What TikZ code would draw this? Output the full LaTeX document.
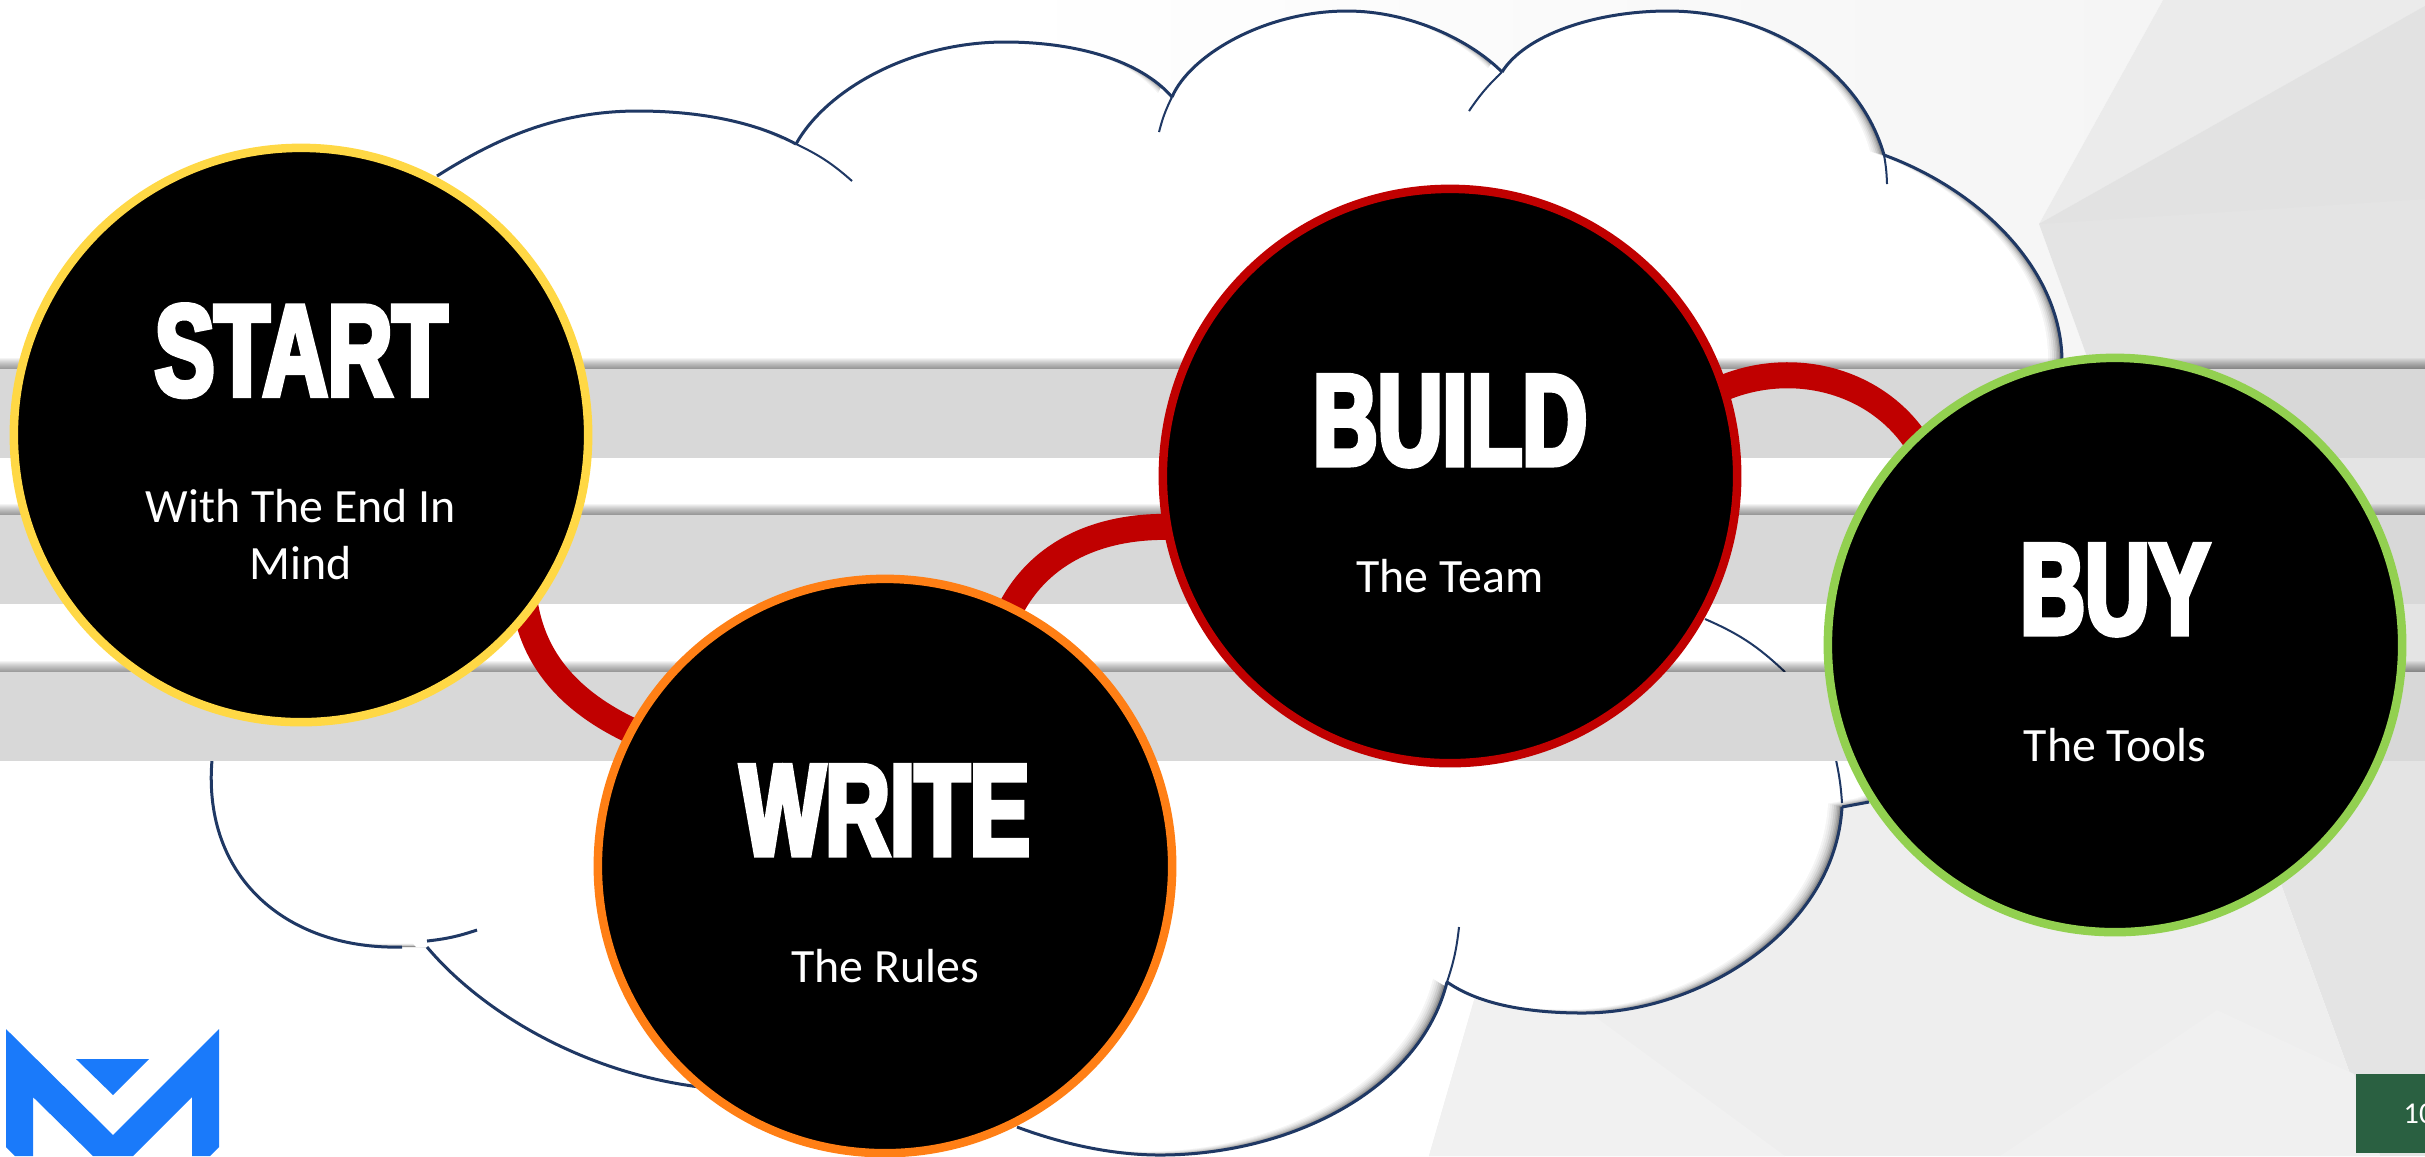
\documentclass[tikz,border=0pt]{standalone}
\usepackage{fontspec}
\usepackage{tikz}
\setmainfont{Carlito}
\newfontfamily\headfont[UprightFont=* Bold,FakeStretch=0.69,FakeBold=4]{Liberation Sans}
\definecolor{cloudblue}{HTML}{1F3864}
\definecolor{linkred}{HTML}{C00000}
\definecolor{bandgrey}{HTML}{D8D8D8}
\definecolor{logoblue}{HTML}{1A7AFA}
\definecolor{boxgreen}{HTML}{2A6041}
\definecolor{ringyellow}{HTML}{FFD845}
\definecolor{ringorange}{HTML}{FF7F15}
\definecolor{ringgreen}{HTML}{92D050}
\pgfdeclarelayer{under}
\pgfsetlayers{under,main}

\newcommand{\stagehead}[1]{\rule{0pt}{30pt}{\headfont\fontsize{37}{37}\selectfont #1}\\[20pt]}
% the lobes of the cloud, in picture pixels
\newcommand{\lobeA}{.. controls (497,138) and (558,111) .. (638,111) .. controls (700,111) and (755,122) .. (796,144)}
\newcommand{\lobeB}{.. controls (826,90) and (910,42) .. (1005,42) .. controls (1075,42) and (1140,60) .. (1172,97)}
\newcommand{\lobeC}{.. controls (1190,55) and (1265,11) .. (1347,11) .. controls (1410,11) and (1470,40) .. (1502,72)}
\newcommand{\lobeD}{.. controls (1525,35) and (1595,11) .. (1668,11) .. controls (1770,11) and (1860,70) .. (1884,155)}
\newcommand{\lobeE}{.. controls (1980,190) and (2062,270) .. (2062,362)}
\newcommand{\lobeF}{.. controls (1835,930) and (1700,1013) .. (1583,1013) .. controls (1530,1013) and (1480,1005) .. (1447,982)}
\newcommand{\lobeG}{.. controls (1420,1090) and (1290,1155) .. (1160,1155) .. controls (1110,1155) and (1060,1143) .. (1017,1127)}
\newcommand{\lobeH}{.. controls (580,1072) and (480,1010) .. (427,947)}
\newcommand{\lobeJ}{.. controls (290,950) and (202,880) .. (212,760)}
\newcommand{\cloudshape}{(437,176) \lobeA \lobeB \lobeC \lobeD \lobeE -- (2080,500) -- (1990,760) -- (1869,802) -- (1842,807) \lobeF \lobeG -- (960,1090) -- (700,1087) \lobeH -- (402,947) \lobeJ -- (230,700) -- (300,400) -- cycle}

\begin{document}
\begin{tikzpicture}[
        x=0.01cm, y=-0.01cm,
        stage/.style={circle,draw=#1,fill=black,text=white,line width=0.085cm,
            minimum size=5.74cm,inner sep=0pt,align=center,
            font=\fontsize{13.6}{16.2}\selectfont},
        cloudline/.style={draw=cloudblue,line width=0.03cm},
        cloudtail/.style={draw=cloudblue,line width=0.02cm},
        link/.style={draw=linkred,line width=0.26cm,
            shorten >=-0.12cm,shorten <=-0.12cm}
    ]
    \useasboundingbox (0,0) rectangle (2425,1156);

    \node[stage=ringyellow] (start) at (301,435) {\stagehead{START}With The End In\\Mind};
    \node[stage=ringorange] (write) at (885,866) {\stagehead{WRITE}The Rules};
    \node[stage=linkred] (build) at (1450,476) {\stagehead{BUILD}The Team};
    \node[stage=ringgreen] (buy) at (2115,645) {\stagehead{BUY}The Tools};

    \begin{pgfonlayer}{under}
    % facets of the slide background
    \shade[left color=white,right color=black!4] (1000,0) -- (2163,0) -- (2039,224) -- (2086,354) -- (1475,997) -- cycle;
    \fill[black!8] (2163,0) -- (2425,0) -- (2425,6) -- (2039,224) -- cycle;
    \fill[black!10.5] (2039,224) -- (2425,6) -- (2425,1156) -- (2380,1156) -- (2282,887) -- (2086,354) -- cycle;
    \fill[black!11.5] (2039,224) -- (2425,6) -- (2425,199) -- cycle;
    \fill[black!6.7] (1475,997) -- (2086,354) -- (2282,887) -- (2380,1156) -- (1429,1156) -- cycle;
    \fill[black!5.5] (1475,997) -- (1590,1013) -- (1785,1156) -- (1429,1156) -- cycle;
    \fill[black!6] (2217,1010) -- (2354,1074) -- (2380,1156) -- (2000,1156) -- cycle;

    % cloud: white body with a soft inner shadow on its right side
    \begin{scope}
        \clip \cloudshape;
        \fill[black!55] (0,0) rectangle (2425,1156);
        \foreach \d/\s in {1.5/45,3/35,4.5/27,6/20,8/13,10/8,12/4,14/0}
            \fill[black!\s!white,shift={(-\d,-0.25*\d)}] \cloudshape;
    \end{scope}
    \draw[cloudline] (437,176) \lobeA;
    \draw[cloudtail] (796,144) to[bend left=8] (852,181);
    \draw[cloudline] (796,144) \lobeB;
    \draw[cloudtail] (1172,97) to[bend right=6] (1159,132);
    \draw[cloudline] (1172,97) \lobeC;
    \draw[cloudtail] (1502,72) to[bend right=6] (1469,111);
    \draw[cloudline] (1502,72) \lobeD;
    \draw[cloudtail] (1884,155) to[bend left=4] (1887,184);
    \draw[cloudline] (1884,155) \lobeE;
    \draw[cloudtail] (1705,619) to[bend left=10] (1785,672);
    \draw[cloudtail] (1836,760) to[bend left=4] (1842,803);
    \draw[cloudline] (1842,807) -- (1869,802);
    \draw[cloudline] (1842,807) \lobeF;
    \draw[cloudtail] (1459,927) to[bend left=6] (1447,982);
    \draw[cloudline] (1447,982) \lobeG;
    \draw[cloudline] (700,1087) \lobeH;
    \draw[cloudline] (402,947) \lobeJ;
    \draw[cloudline] (427,941) to[bend right=6] (477,930);

    % the three grey bands
    \foreach \y in {369,515,672} {
        \foreach \k in {1,...,11}
            \fill[black,opacity=0.045] (0,\y-\k) rectangle (2425,\y);
        \fill[bandgrey] (0,\y) rectangle (2425,\y+89);
    }

    \draw[link] (start.-39) to[out=-80,in=156,out looseness=.8,in looseness=1] (write.152);
    \draw[link] (write.64) to[out=65,in=178,out looseness=.8,in looseness=1.05] (build.190);
    \draw[link] (build.18) to[out=25,in=122,looseness=.9] (buy.134);

    % logo
    \fill[logoblue] (6,1029) -- (113,1135) -- (219,1029) -- (219,1147) -- (210,1156) -- (192,1156) -- (192,1097)
        -- (133,1156) -- (93,1156) -- (33,1097) -- (33,1156) -- (15,1156) -- (6,1147) -- cycle;
    \fill[logoblue] (76,1059) -- (149,1059) -- (113,1095) -- cycle;

    \fill[boxgreen] (2356,1074) rectangle (2425,1153);
    \node[anchor=west,inner sep=0pt,text=white,font=\fontsize{8.6}{10}\selectfont] (pagenum) at (2403,1114) {10};
    \end{pgfonlayer}
\end{tikzpicture}
\end{document}
